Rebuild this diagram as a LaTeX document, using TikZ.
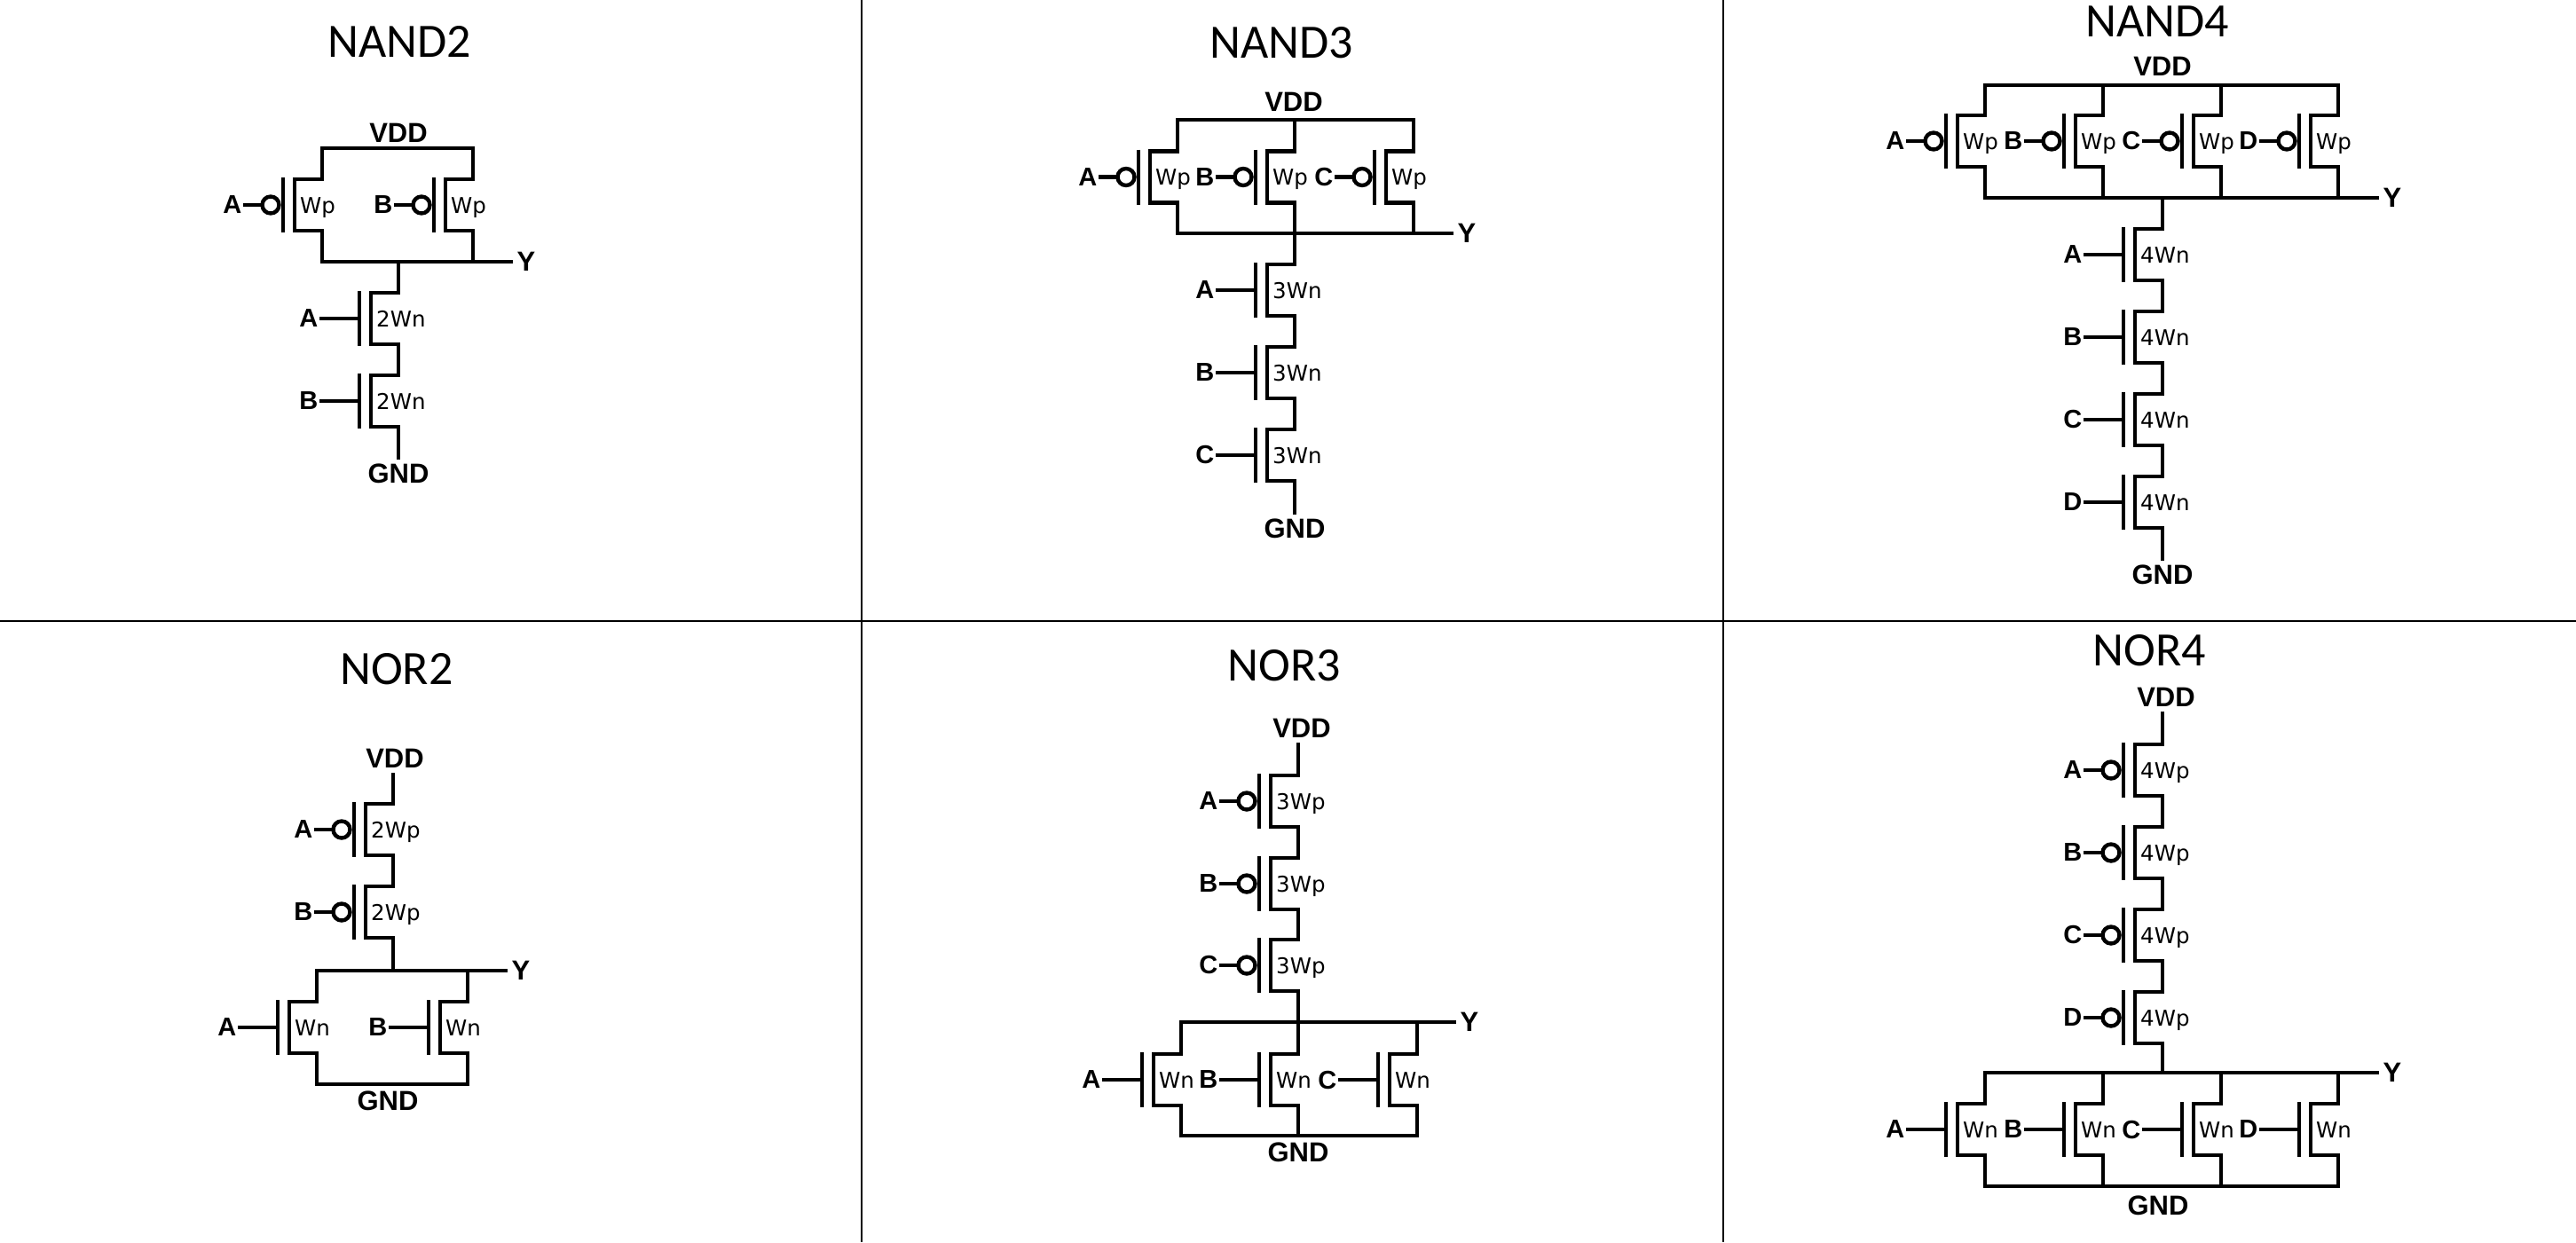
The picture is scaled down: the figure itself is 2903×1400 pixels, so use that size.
\documentclass[tikz,border=0pt]{standalone}
\usepackage{fontspec}
\setmainfont{Liberation Sans}
\newfontfamily\ttlfont{Carlito}
\newfontfamily\wdfont{DejaVu Sans}
\usepackage{tikz}
\usetikzlibrary{positioning,calc}

\newcommand{\fetbody}[2]{
  \coordinate (-top) at (0,-29);
  \coordinate (-bot) at (0,29);
  \coordinate (-g) at (-44,0);
  \draw[wire] (-top) -- (-31,-29) -- (-31,29) -- (-bot);
  \draw[wire, line cap=butt] (-44,-31) -- (-44,31);
  \node[inp, anchor=east] (-in) at (-87,0) {#1};
  \node[wd, anchor=base west] (-w) at (-25,9) {#2};
}

\begin{document}
\begin{tikzpicture}[
  x=1pt, y=-1pt,
  ttl/.style={font=\ttlfont\fontsize{54}{62}\selectfont, inner sep=0pt},
  rail/.style={font=\bfseries\fontsize{31}{36}\selectfont, inner sep=7pt},
  inp/.style={font=\bfseries\fontsize{29}{34}\selectfont, inner sep=3.5pt},
  wd/.style={font=\wdfont\fontsize{24.5}{30}\selectfont, inner sep=0pt},
  wire/.style={line width=4.4pt, line cap=rect},
  bub/.style={circle, draw, line width=4.4pt, minimum size=19pt, inner sep=0pt},
  pics/nfet/.style 2 args={code={
    \fetbody{#1}{#2}
    \draw[wire] (-in) -- (-g);
  }},
  pics/pfet/.style 2 args={code={
    \fetbody{#1}{#2}
    \node[bub] (-bub) at (-58,0) {};
    \draw[wire] (-in) -- (-bub);
  }}]
  \useasboundingbox (0,0) rectangle (2903,1400);
  % dividers
  \draw[line width=2pt] (971,0) -- (971,1400);
  \draw[line width=2pt] (1942,0) -- (1942,1400);
  \draw[line width=2pt] (0,700) -- (2903,700);

  % NAND2
  \node[ttl] (nd2ttl) at (450,47) {NAND2};
  \node[rail] (nd2vdd) at (449,150) {VDD};
  \coordinate (nd2t) at (449,167);
  \pic (nd2pa) at (363,231) {pfet={A}{Wp}};
  \pic (nd2pb) at (533,231) {pfet={B}{Wp}};
  \node[rail] (nd2y) at (593,295) {Y};
  \pic (nd2na) at (449,359) {nfet={A}{2Wn}};
  \pic (nd2nb) at (449,452) {nfet={B}{2Wn}};
  \node[rail] (nd2gnd) at (449,534) {GND};
  \draw[wire] (nd2pa-top) |- (nd2t) -| (nd2pb-top);
  \draw[wire] (nd2pa-bot) |- (nd2y);
  \draw[wire] (nd2pb-bot) |- (nd2y);
  \draw[wire] (nd2na-top) |- (nd2y);
  \draw[wire] (nd2na-bot) -- (nd2nb-top);
  \draw[wire] (nd2nb-bot) -- (nd2gnd);

  % NAND3
  \node[ttl] (nd3ttl) at (1444,48) {NAND3};
  \node[rail] (nd3vdd) at (1458,115) {VDD};
  \coordinate (nd3t) at (1459,135);
  \pic (nd3pa) at (1327,199.5) {pfet={A}{Wp}};
  \pic (nd3pb) at (1459,199.5) {pfet={B}{Wp}};
  \pic (nd3pc) at (1593,199.5) {pfet={C}{Wp}};
  \node[rail] (nd3y) at (1653,263) {Y};
  \pic (nd3na) at (1459,327) {nfet={A}{3Wn}};
  \pic (nd3nb) at (1459,420) {nfet={B}{3Wn}};
  \pic (nd3nc) at (1459,513) {nfet={C}{3Wn}};
  \node[rail] (nd3gnd) at (1459,596) {GND};
  \draw[wire] (nd3pa-top) |- (nd3t) -| (nd3pc-top);
  \draw[wire] (nd3pb-top) -- (nd3t);
  \draw[wire] (nd3pa-bot) |- (nd3y);
  \draw[wire] (nd3pb-bot) -- (nd3na-top);
  \draw[wire] (nd3pc-bot) |- (nd3y);
  \draw[wire] (nd3na-bot) -- (nd3nb-top);
  \draw[wire] (nd3nb-bot) -- (nd3nc-top);
  \draw[wire] (nd3nc-bot) -- (nd3gnd);

  % NAND4
  \node[ttl] (nd4ttl) at (2431,24) {NAND4};
  \node[rail] (nd4vdd) at (2437,75) {VDD};
  \coordinate (nd4t) at (2437,96);
  \pic (nd4pa) at (2237,159) {pfet={A}{Wp}};
  \pic (nd4pb) at (2370,159) {pfet={B}{Wp}};
  \pic (nd4pc) at (2503,159) {pfet={C}{Wp}};
  \pic (nd4pd) at (2635,159) {pfet={D}{Wp}};
  \node[rail] (nd4y) at (2696,223) {Y};
  \pic (nd4na) at (2437,287) {nfet={A}{4Wn}};
  \pic (nd4nb) at (2437,380) {nfet={B}{4Wn}};
  \pic (nd4nc) at (2437,473) {nfet={C}{4Wn}};
  \pic (nd4nd) at (2437,566) {nfet={D}{4Wn}};
  \node[rail] (nd4gnd) at (2437,648) {GND};
  \draw[wire] (nd4pa-top) |- (nd4t) -| (nd4pd-top);
  \draw[wire] (nd4pb-top) |- (nd4t);
  \draw[wire] (nd4pc-top) |- (nd4t);
  \draw[wire] (nd4pa-bot) |- (nd4y);
  \draw[wire] (nd4pb-bot) |- (nd4y);
  \draw[wire] (nd4pc-bot) |- (nd4y);
  \draw[wire] (nd4pd-bot) |- (nd4y);
  \draw[wire] (nd4na-top) |- (nd4y);
  \draw[wire] (nd4na-bot) -- (nd4nb-top);
  \draw[wire] (nd4nb-bot) -- (nd4nc-top);
  \draw[wire] (nd4nc-bot) -- (nd4nd-top);
  \draw[wire] (nd4nd-bot) -- (nd4gnd);

  % NOR2
  \node[ttl] (nr2ttl) at (447,754) {NOR2};
  \node[rail] (nr2vdd) at (445,855) {VDD};
  \pic (nr2pa) at (443,935) {pfet={A}{2Wp}};
  \pic (nr2pb) at (443,1028) {pfet={B}{2Wp}};
  \node[rail] (nr2y) at (587,1094) {Y};
  \pic (nr2na) at (357,1158) {nfet={A}{Wn}};
  \pic (nr2nb) at (527,1158) {nfet={B}{Wn}};
  \coordinate (nr2b) at (443,1222);
  \node[rail] (nr2gnd) at (437,1241) {GND};
  \draw[wire] (nr2pa-top) -- (nr2pa-top |- nr2vdd.south);
  \draw[wire] (nr2pa-bot) -- (nr2pb-top);
  \draw[wire] (nr2pb-bot) |- (nr2y);
  \draw[wire] (nr2na-top) |- (nr2y);
  \draw[wire] (nr2nb-top) |- (nr2y);
  \draw[wire] (nr2na-bot) |- (nr2b) -| (nr2nb-bot);

  % NOR3
  \node[ttl] (nr3ttl) at (1447,750) {NOR3};
  \node[rail] (nr3vdd) at (1467,821) {VDD};
  \pic (nr3pa) at (1463,903) {pfet={A}{3Wp}};
  \pic (nr3pb) at (1463,996) {pfet={B}{3Wp}};
  \pic (nr3pc) at (1463,1088) {pfet={C}{3Wp}};
  \node[rail] (nr3y) at (1656,1152) {Y};
  \pic (nr3na) at (1331,1217) {nfet={A}{Wn}};
  \pic (nr3nb) at (1463,1217) {nfet={B}{Wn}};
  \pic (nr3nc) at (1597,1217) {nfet={C}{Wn}};
  \coordinate (nr3b) at (1463,1280);
  \node[rail] (nr3gnd) at (1463,1299) {GND};
  \draw[wire] (nr3pa-top) -- (nr3pa-top |- nr3vdd.south);
  \draw[wire] (nr3pa-bot) -- (nr3pb-top);
  \draw[wire] (nr3pb-bot) -- (nr3pc-top);
  \draw[wire] (nr3pc-bot) -- (nr3nb-top);
  \draw[wire] (nr3na-top) |- (nr3y);
  \draw[wire] (nr3nc-top) |- (nr3y);
  \draw[wire] (nr3na-bot) |- (nr3b) -| (nr3nc-bot);
  \draw[wire] (nr3nb-bot) -- (nr3b);

  % NOR4
  \node[ttl] (nr4ttl) at (2422,733) {NOR4};
  \node[rail] (nr4vdd) at (2441,786) {VDD};
  \pic (nr4pa) at (2437,868) {pfet={A}{4Wp}};
  \pic (nr4pb) at (2437,961) {pfet={B}{4Wp}};
  \pic (nr4pc) at (2437,1054) {pfet={C}{4Wp}};
  \pic (nr4pd) at (2437,1147) {pfet={D}{4Wp}};
  \node[rail] (nr4y) at (2696,1209) {Y};
  \pic (nr4na) at (2237,1273) {nfet={A}{Wn}};
  \pic (nr4nb) at (2370,1273) {nfet={B}{Wn}};
  \pic (nr4nc) at (2503,1273) {nfet={C}{Wn}};
  \pic (nr4nd) at (2635,1273) {nfet={D}{Wn}};
  \coordinate (nr4b) at (2437,1337);
  \node[rail] (nr4gnd) at (2432,1359) {GND};
  \draw[wire] (nr4pa-top) -- (nr4pa-top |- nr4vdd.south);
  \draw[wire] (nr4pa-bot) -- (nr4pb-top);
  \draw[wire] (nr4pb-bot) -- (nr4pc-top);
  \draw[wire] (nr4pc-bot) -- (nr4pd-top);
  \draw[wire] (nr4pd-bot) |- (nr4y);
  \draw[wire] (nr4na-top) |- (nr4y);
  \draw[wire] (nr4nb-top) |- (nr4y);
  \draw[wire] (nr4nc-top) |- (nr4y);
  \draw[wire] (nr4nd-top) |- (nr4y);
  \draw[wire] (nr4na-bot) |- (nr4b) -| (nr4nd-bot);
  \draw[wire] (nr4nb-bot) |- (nr4b);
  \draw[wire] (nr4nc-bot) |- (nr4b);
\end{tikzpicture}
\end{document}
